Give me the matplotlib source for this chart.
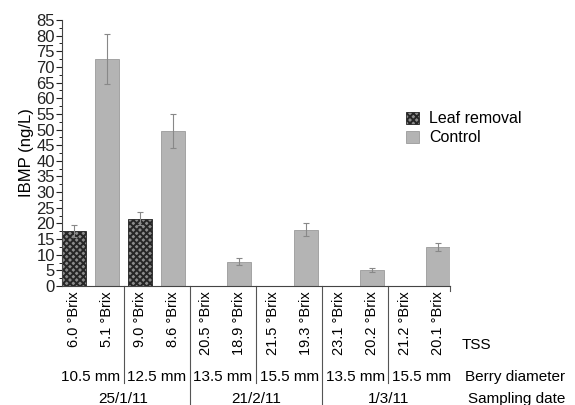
import matplotlib
matplotlib.use('Agg')
import matplotlib.pyplot as plt
import numpy as np

plt.rcParams['font.family'] = ['Liberation Sans', 'DejaVu Sans']
plt.rcParams['hatch.linewidth'] = 1.4

# data
tss = ['6.0 °Brix', '5.1 °Brix', '9.0 °Brix', '8.6 °Brix', '20.5 °Brix', '18.9 °Brix',
       '21.5 °Brix', '19.3 °Brix', '23.1 °Brix', '20.2 °Brix', '21.2 °Brix', '20.1 °Brix']
berry = ['10.5 mm', '12.5 mm', '13.5 mm', '15.5 mm', '13.5 mm', '15.5 mm']
dates = ['25/1/11', '21/2/11', '1/3/11']
leaf_vals = [17.5, 21.5, np.nan, np.nan, np.nan, np.nan]
leaf_err = [2.0, 2.0, 0, 0, 0, 0]
ctrl_vals = [72.5, 49.5, 7.8, 18.0, 5.2, 12.5]
ctrl_err = [8.0, 5.5, 1.0, 2.0, 0.6, 1.3]

fig = plt.figure(figsize=(5.75, 4.05), dpi=100)
ax = fig.add_axes([62/575, 1-286/405, 388/575, 266/405])

g = np.arange(len(berry))
x_leaf = g * 2
x_ctrl = g * 2 + 1
w = 0.725

ax.bar(x_leaf, leaf_vals, w, yerr=leaf_err, color='#8c8c8c', edgecolor='#262626',
       hatch='xxxxx', linewidth=0.6, label='Leaf removal',
       error_kw=dict(ecolor='#888888', elinewidth=0.8, capsize=2.5, capthick=0.8))
ax.bar(x_ctrl, ctrl_vals, w, yerr=ctrl_err, color='#b4b4b4', edgecolor='#9a9a9a',
       linewidth=0.6, label='Control',
       error_kw=dict(ecolor='#888888', elinewidth=0.8, capsize=2.5, capthick=0.8))

ax.set_xlim(-w/2, 11 + w/2)
ax.set_ylim(0, 85)
ax.set_yticks(np.arange(0, 90, 5))
ax.set_yticks(np.arange(0, 85, 2.5), minor=True)
ax.tick_params(axis='y', which='major', length=4, width=0.8, pad=1, labelsize=12, colors='#222222')
ax.tick_params(axis='y', which='minor', length=2.5, width=0.6)
ax.set_xticks([])
for s in ['top', 'right']:
    ax.spines[s].set_visible(False)
ax.spines['left'].set_color('#444444')
ax.spines['bottom'].set_color('#444444')
ax.set_ylabel('IBMP (ng/L)', fontsize=12, labelpad=2)

tr = ax.get_xaxis_transform()
for i, t in enumerate(tss):
    ax.text(i, -0.02, t, rotation=90, ha='center', va='top', fontsize=10.5, transform=tr)
for i, b in enumerate(berry):
    ax.text(2*i + 0.5, -0.342, b, ha='center', va='center', fontsize=11, transform=tr)
for i, d in enumerate(dates):
    ax.text(4*i + 1.5, -0.425, d, ha='center', va='center', fontsize=11, transform=tr)

# separators below the axis
for k in range(1, 6):
    xs = 2*k - 0.5
    bottom = -0.46 if k % 2 == 0 else -0.365
    ax.plot([xs, xs], [0, bottom], color='#555555', lw=0.8, transform=tr, clip_on=False)
ax.plot([11 + w/2, 11 + w/2], [0, -0.02], color='#555555', lw=0.8, transform=tr, clip_on=False)

ax.text(462/575, 1-345/405, 'TSS', transform=fig.transFigure, ha='left', va='center', fontsize=11)
ax.text(465/575, 1-377/405, 'Berry diameter', transform=fig.transFigure, ha='left', va='center', fontsize=11)
ax.text(468/575, 1-399/405, 'Sampling date', transform=fig.transFigure, ha='left', va='center', fontsize=11)

fig.legend(loc='upper left', bbox_to_anchor=(400/575, 1-105/405), frameon=False,
           fontsize=11.5, handlelength=0.8, handleheight=0.8, handletextpad=0.6,
           labelspacing=0.25, borderaxespad=0)

fig.savefig('out.png', dpi=100)
